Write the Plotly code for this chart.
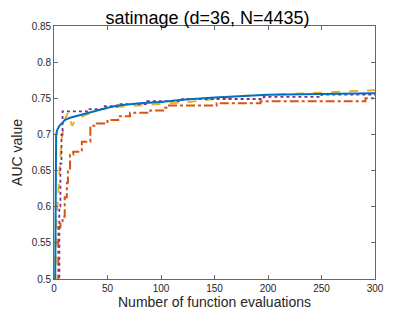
import plotly.graph_objects as go

title_text = "satimage (d=36, N=4435)"
x_label = "Number of function evaluations"
y_label = "AUC value"

x_ticks = [0, 50, 100, 150, 200, 250, 300]
y_ticks = [0.5, 0.55, 0.6, 0.65, 0.7, 0.75, 0.8, 0.85]
y_tick_labels = ["0.5", "0.55", "0.6", "0.65", "0.7", "0.75", "0.8", "0.85"]

# blue solid
blue_x = [1, 2, 3, 5, 8, 10, 15, 20, 25, 30, 40, 50, 60, 70, 80, 100, 120, 150, 180, 200, 250, 300]
blue_y = [0.47, 0.70, 0.706, 0.712, 0.716, 0.72, 0.723, 0.725, 0.728, 0.73, 0.734, 0.737,
          0.740, 0.742, 0.743, 0.745, 0.748, 0.751, 0.753, 0.755, 0.756, 0.757]

# orange dash-dot
orange_x = [3, 4, 6, 8, 10, 12, 13, 15, 18, 24, 26, 30, 34, 40, 50, 60, 71, 90, 102, 105, 152, 193, 291, 300]
orange_y = [0.47, 0.572, 0.58, 0.586, 0.613, 0.633, 0.651, 0.672, 0.676, 0.678, 0.69, 0.69,
            0.712, 0.715, 0.72, 0.725, 0.73, 0.733, 0.737, 0.740, 0.743, 0.746, 0.750, 0.750]

# yellow dashed
yellow_x = [1, 2, 4, 7, 10, 13, 15, 17, 20, 25, 36, 45, 59, 90, 127, 150, 183, 220, 242, 255, 280, 300]
yellow_y = [0.47, 0.572, 0.62, 0.692, 0.72, 0.73, 0.72, 0.712, 0.72, 0.724, 0.731, 0.735,
            0.738, 0.741, 0.745, 0.749, 0.754, 0.756, 0.757, 0.758, 0.760, 0.761]

# purple dotted
purple_x = [4, 5, 6, 7, 8, 32, 46, 59, 87, 120, 196, 250, 300]
purple_y = [0.47, 0.60, 0.66, 0.70, 0.732, 0.735, 0.739, 0.742, 0.746, 0.749, 0.752, 0.755, 0.756]

fig = go.Figure()
fig.add_trace(go.Scatter(x=orange_x, y=orange_y, mode="lines", line_shape="hv",
                         line=dict(color="#D95319", width=2, dash="dashdot")))
fig.add_trace(go.Scatter(x=yellow_x, y=yellow_y, mode="lines",
                         line=dict(color="#EDB120", width=2, dash="dash")))
fig.add_trace(go.Scatter(x=purple_x, y=purple_y, mode="lines", line_shape="hv",
                         line=dict(color="#7E2F8E", width=1.8, dash="dot")))
fig.add_trace(go.Scatter(x=blue_x, y=blue_y, mode="lines",
                         line=dict(color="#0072BD", width=2)))

axis_common = dict(showgrid=False, zeroline=False, showline=True, linecolor="#666666",
                   linewidth=0.8, mirror="ticks", ticks="inside", ticklen=4, automargin=False,
                   tickcolor="#666666", tickfont=dict(family="Liberation Sans, Arial", size=10, color="#262626"))

# page body has an 8px default margin, so margins are shifted to compensate
fig.update_layout(
    width=415, height=316,
    margin=dict(l=46, r=48, t=18, b=45),
    paper_bgcolor="white", plot_bgcolor="white",
    showlegend=False,
    title=dict(text=title_text, x=199.5 / 415, xref="container", xanchor="center",
               y=1 - 10 / 316, yref="container", yanchor="middle", automargin=False,
               font=dict(family="Liberation Sans, Arial", size=18, color="black")),
    xaxis=dict(range=[0, 300], tickvals=x_ticks,
               title=dict(text=x_label, standoff=4,
                          font=dict(family="Liberation Sans, Arial", size=14, color="#262626")),
               **axis_common),
    yaxis=dict(range=[0.5, 0.85], tickvals=y_ticks, ticktext=y_tick_labels,
               title=dict(text=y_label, standoff=5,
                          font=dict(family="Liberation Sans, Arial", size=14, color="#262626")),
               **axis_common),
)

fig.write_html("out.html")
